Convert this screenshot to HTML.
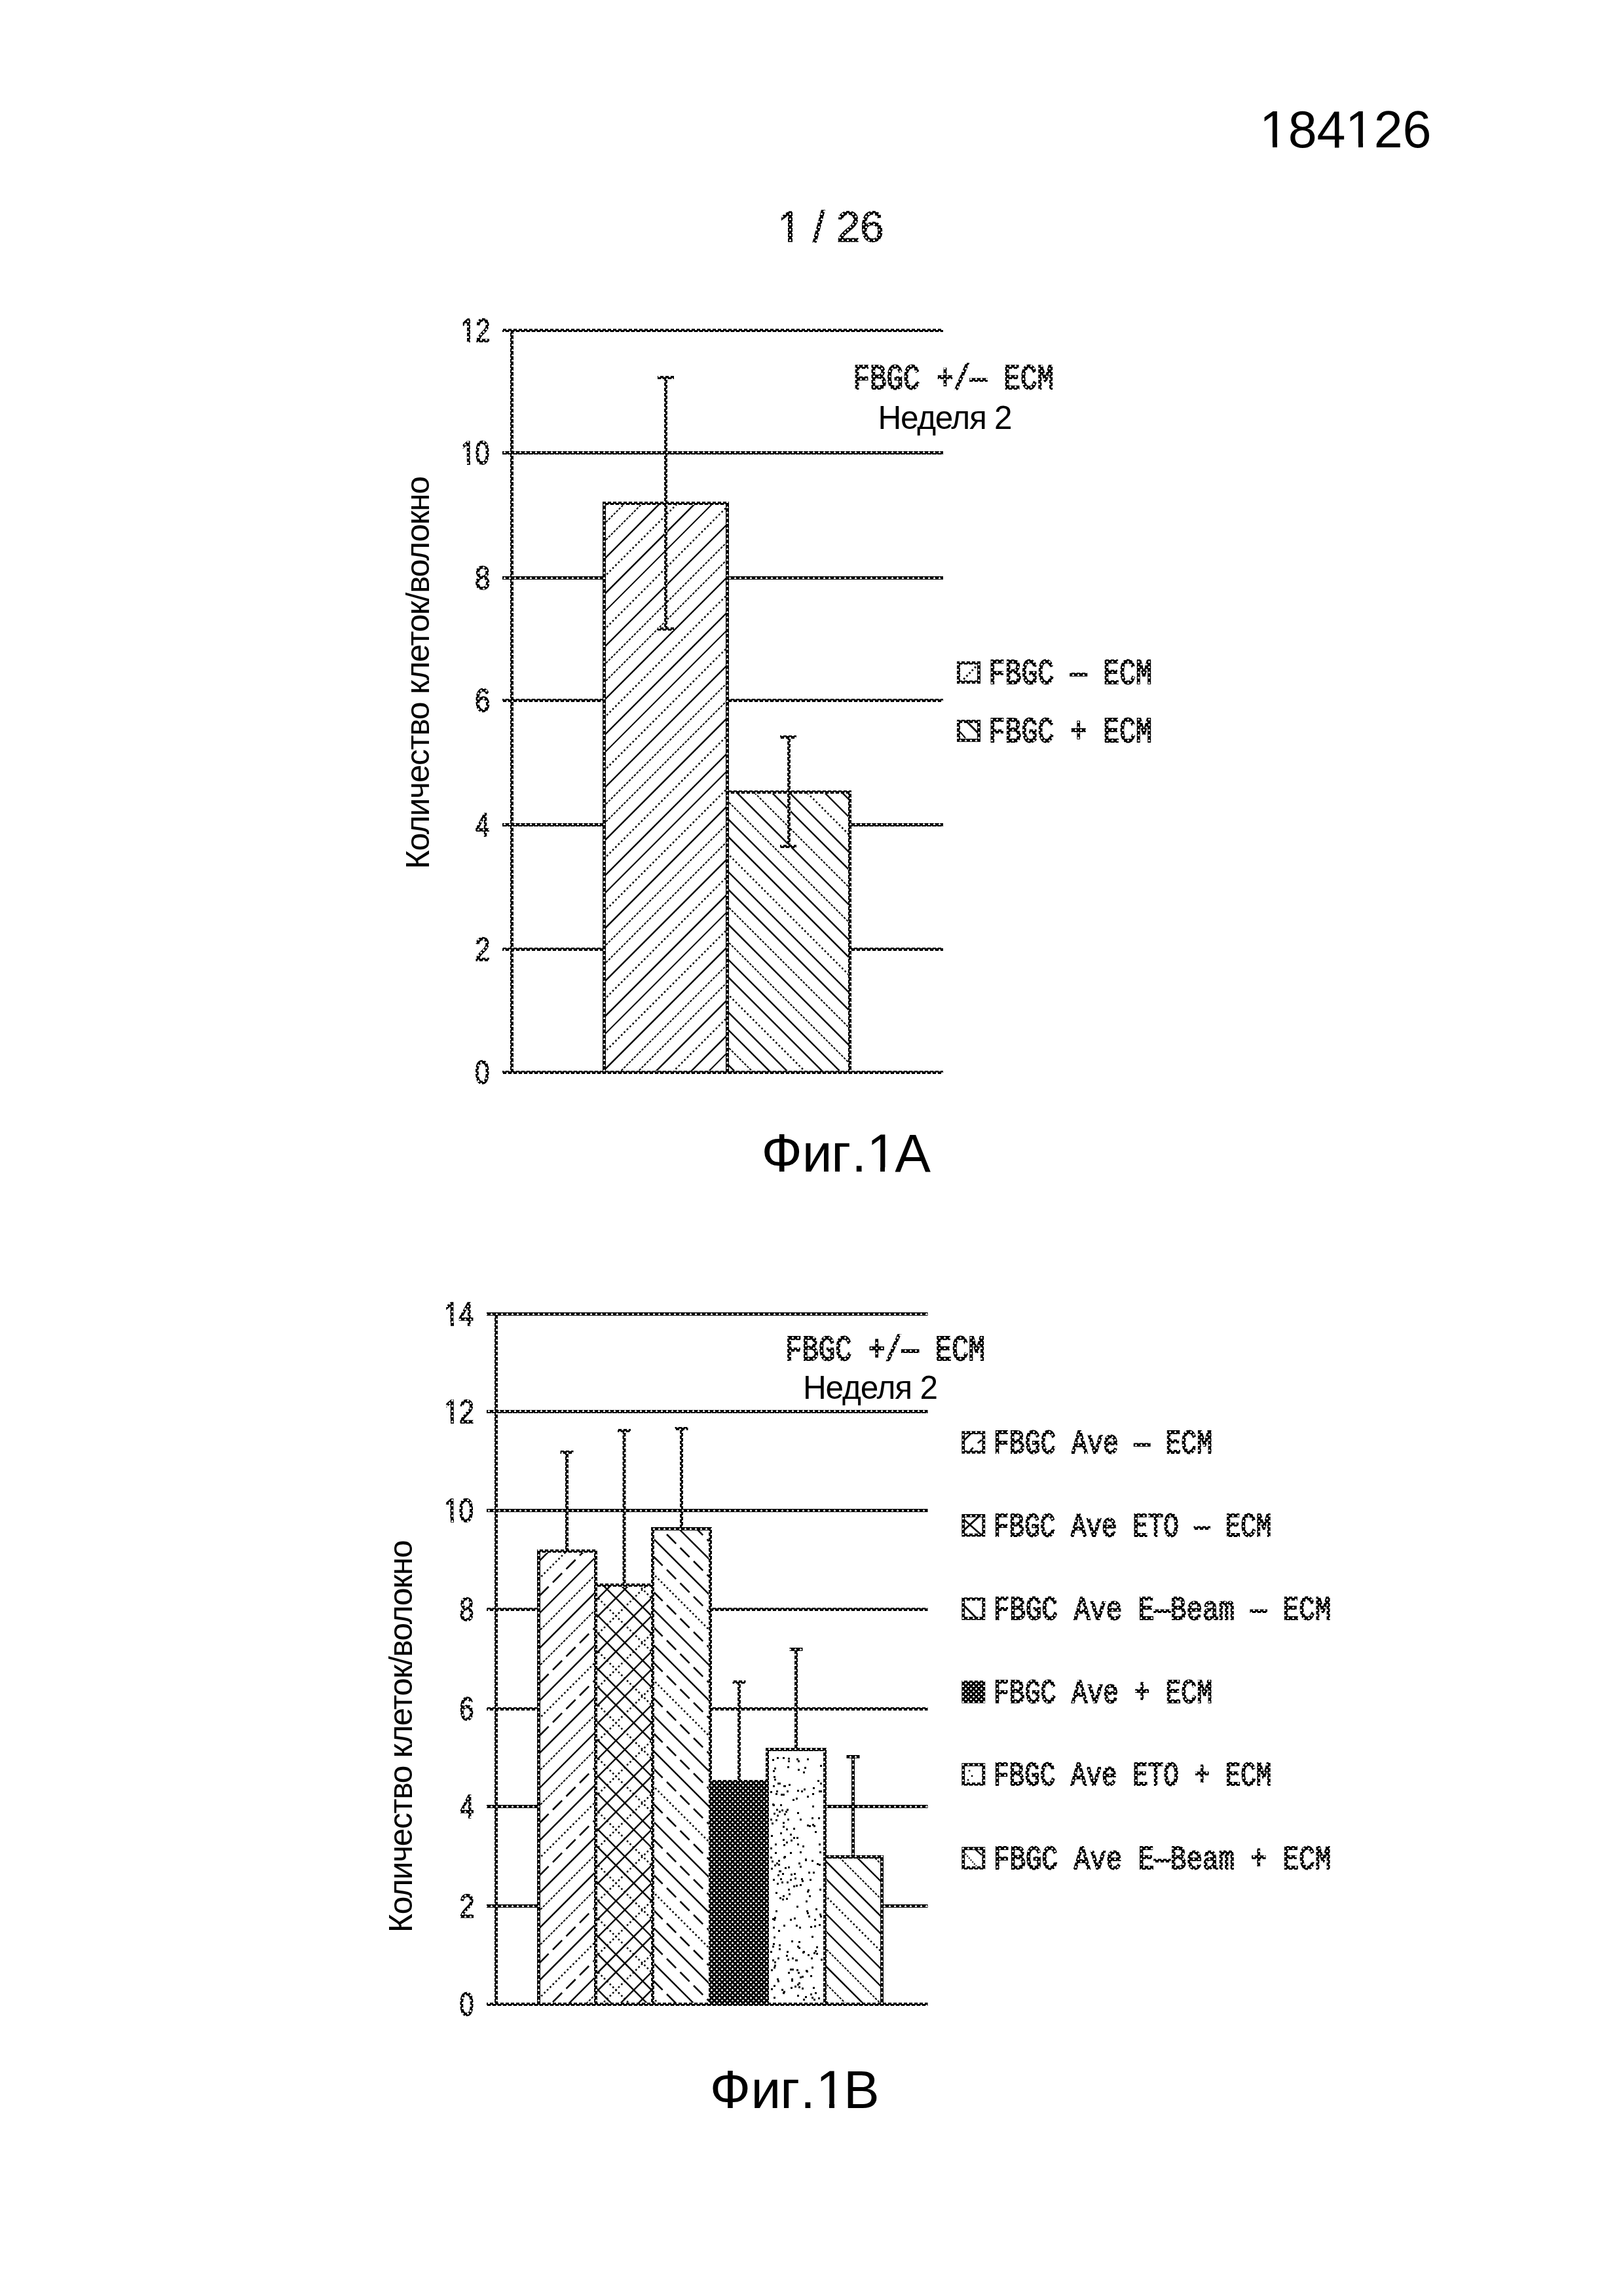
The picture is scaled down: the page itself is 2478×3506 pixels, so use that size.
<!DOCTYPE html>
<html><head><meta charset="utf-8">
<style>
html,body{margin:0;padding:0;background:#fff;}
body{width:2478px;height:3506px;overflow:hidden;}
svg{display:block;will-change:transform;}
</style></head><body>
<svg width="2478" height="3506" viewBox="0 0 2478 3506">
<rect x="0" y="0" width="2478" height="3506" fill="#fff"/>
<defs>
<pattern id="darkp" patternUnits="userSpaceOnUse" x="0" y="0" width="8" height="8">
<rect width="8" height="8" fill="#000"/>
<rect x="1" y="1" width="3" height="3" fill="#fff"/>
<rect x="5" y="5" width="3" height="3" fill="#fff"/>
<rect x="1" y="1" width="1" height="1" fill="#000"/>
<rect x="5" y="5" width="1" height="1" fill="#000"/>
<rect x="3" y="1" width="1" height="1" fill="#000"/>
<rect x="7" y="5" width="1" height="1" fill="#000"/>
</pattern>
<clipPath id="ca1"><rect x="922.5" y="768.5" width="188" height="869"/></clipPath>
<clipPath id="ca2"><rect x="1110.5" y="1209.5" width="187" height="428"/></clipPath>
<clipPath id="cb1"><rect x="822.5" y="2368.5" width="87" height="692"/></clipPath>
<clipPath id="cb2"><rect x="909.5" y="2420.5" width="87" height="640"/></clipPath>
<clipPath id="cb3"><rect x="996.5" y="2334.5" width="88" height="726"/></clipPath>
<clipPath id="cb6"><rect x="1259.5" y="2835.5" width="87" height="225"/></clipPath>
</defs>
<g stroke="url(#darkp)" stroke-width="5" fill="none">
<line x1="767" y1="1637.5" x2="1440" y2="1637.5"/>
<line x1="767" y1="1449.5" x2="1440" y2="1449.5"/>
<line x1="767" y1="1259.5" x2="1440" y2="1259.5"/>
<line x1="767" y1="1069.5" x2="1440" y2="1069.5"/>
<line x1="767" y1="882.5" x2="1440" y2="882.5"/>
<line x1="767" y1="691.5" x2="1440" y2="691.5"/>
<line x1="767" y1="504.5" x2="1440" y2="504.5"/>
<line x1="781.5" y1="502" x2="781.5" y2="1640"/>
<rect x="922.5" y="768.5" width="188" height="869" fill="#fff" stroke="none"/>
<rect x="1110.5" y="1209.5" width="187" height="428" fill="#fff" stroke="none"/>
<g clip-path="url(#ca1)" stroke="#000" fill="none">
<line x1="882.5" y1="759.4" x2="1150.5" y2="491.4" stroke-width="2"/>
<line x1="882.5" y1="786.3" x2="1150.5" y2="518.3" stroke-width="2.6" stroke-dasharray="2.6 3.6"/>
<line x1="882.5" y1="813.2" x2="1150.5" y2="545.2" stroke-width="2.4"/>
<line x1="882.5" y1="840.1" x2="1150.5" y2="572.1" stroke-width="2" stroke-dasharray="3.5 2"/>
<line x1="882.5" y1="867" x2="1150.5" y2="599" stroke-width="2" stroke-dasharray="3.5 2"/>
<line x1="882.5" y1="893.9" x2="1150.5" y2="625.9" stroke-width="2.4"/>
<line x1="882.5" y1="920.8" x2="1150.5" y2="652.8" stroke-width="2.6" stroke-dasharray="2.6 3.6"/>
<line x1="882.5" y1="947.7" x2="1150.5" y2="679.7" stroke-width="2.4"/>
<line x1="882.5" y1="974.6" x2="1150.5" y2="706.6" stroke-width="2"/>
<line x1="882.5" y1="1001.5" x2="1150.5" y2="733.5" stroke-width="2.6" stroke-dasharray="2.6 3.6"/>
<line x1="882.5" y1="1028.4" x2="1150.5" y2="760.4" stroke-width="2.4"/>
<line x1="882.5" y1="1055.3" x2="1150.5" y2="787.3" stroke-width="2" stroke-dasharray="3.5 2"/>
<line x1="882.5" y1="1082.2" x2="1150.5" y2="814.2" stroke-width="2" stroke-dasharray="3.5 2"/>
<line x1="882.5" y1="1109.1" x2="1150.5" y2="841.1" stroke-width="2.4"/>
<line x1="882.5" y1="1136" x2="1150.5" y2="868" stroke-width="2.6" stroke-dasharray="2.6 3.6"/>
<line x1="882.5" y1="1162.9" x2="1150.5" y2="894.9" stroke-width="2.4"/>
<line x1="882.5" y1="1189.8" x2="1150.5" y2="921.8" stroke-width="2"/>
<line x1="882.5" y1="1216.7" x2="1150.5" y2="948.7" stroke-width="2.6" stroke-dasharray="2.6 3.6"/>
<line x1="882.5" y1="1243.6" x2="1150.5" y2="975.6" stroke-width="2.4"/>
<line x1="882.5" y1="1270.5" x2="1150.5" y2="1002.5" stroke-width="2" stroke-dasharray="3.5 2"/>
<line x1="882.5" y1="1297.4" x2="1150.5" y2="1029.4" stroke-width="2" stroke-dasharray="3.5 2"/>
<line x1="882.5" y1="1324.3" x2="1150.5" y2="1056.3" stroke-width="2.4"/>
<line x1="882.5" y1="1351.2" x2="1150.5" y2="1083.2" stroke-width="2.6" stroke-dasharray="2.6 3.6"/>
<line x1="882.5" y1="1378.1" x2="1150.5" y2="1110.1" stroke-width="2.4"/>
<line x1="882.5" y1="1405" x2="1150.5" y2="1137" stroke-width="2"/>
<line x1="882.5" y1="1431.9" x2="1150.5" y2="1163.9" stroke-width="2.6" stroke-dasharray="2.6 3.6"/>
<line x1="882.5" y1="1458.8" x2="1150.5" y2="1190.8" stroke-width="2.4"/>
<line x1="882.5" y1="1485.7" x2="1150.5" y2="1217.7" stroke-width="2" stroke-dasharray="3.5 2"/>
<line x1="882.5" y1="1512.6" x2="1150.5" y2="1244.6" stroke-width="2" stroke-dasharray="3.5 2"/>
<line x1="882.5" y1="1539.5" x2="1150.5" y2="1271.5" stroke-width="2.4"/>
<line x1="882.5" y1="1566.4" x2="1150.5" y2="1298.4" stroke-width="2.6" stroke-dasharray="2.6 3.6"/>
<line x1="882.5" y1="1593.3" x2="1150.5" y2="1325.3" stroke-width="2.4"/>
<line x1="882.5" y1="1620.2" x2="1150.5" y2="1352.2" stroke-width="2"/>
<line x1="882.5" y1="1647.1" x2="1150.5" y2="1379.1" stroke-width="2.6" stroke-dasharray="2.6 3.6"/>
<line x1="882.5" y1="1674" x2="1150.5" y2="1406" stroke-width="2.4"/>
<line x1="882.5" y1="1700.9" x2="1150.5" y2="1432.9" stroke-width="2" stroke-dasharray="3.5 2"/>
<line x1="882.5" y1="1727.8" x2="1150.5" y2="1459.8" stroke-width="2" stroke-dasharray="3.5 2"/>
<line x1="882.5" y1="1754.7" x2="1150.5" y2="1486.7" stroke-width="2.4"/>
<line x1="882.5" y1="1781.6" x2="1150.5" y2="1513.6" stroke-width="2.6" stroke-dasharray="2.6 3.6"/>
<line x1="882.5" y1="1808.5" x2="1150.5" y2="1540.5" stroke-width="2.4"/>
<line x1="882.5" y1="1835.4" x2="1150.5" y2="1567.4" stroke-width="2"/>
<line x1="882.5" y1="1862.3" x2="1150.5" y2="1594.3" stroke-width="2.6" stroke-dasharray="2.6 3.6"/>
<line x1="882.5" y1="1889.2" x2="1150.5" y2="1621.2" stroke-width="2.4"/>
<line x1="882.5" y1="1916.1" x2="1150.5" y2="1648.1" stroke-width="2" stroke-dasharray="3.5 2"/>
</g>
<g clip-path="url(#ca2)" stroke="#000" fill="none">
<line x1="1070.5" y1="941.5" x2="1337.5" y2="1208.5" stroke-width="2.4"/>
<line x1="1070.5" y1="968.3" x2="1337.5" y2="1235.3" stroke-width="2" stroke-dasharray="3.5 2"/>
<line x1="1070.5" y1="995.1" x2="1337.5" y2="1262.1" stroke-width="2.4"/>
<line x1="1070.5" y1="1021.9" x2="1337.5" y2="1288.9" stroke-width="2.4"/>
<line x1="1070.5" y1="1048.7" x2="1337.5" y2="1315.7" stroke-width="2.6" stroke-dasharray="2.6 3.6"/>
<line x1="1070.5" y1="1075.5" x2="1337.5" y2="1342.5" stroke-width="2.4"/>
<line x1="1070.5" y1="1102.3" x2="1337.5" y2="1369.3" stroke-width="2.4"/>
<line x1="1070.5" y1="1129.1" x2="1337.5" y2="1396.1" stroke-width="2" stroke-dasharray="3.5 2"/>
<line x1="1070.5" y1="1155.9" x2="1337.5" y2="1422.9" stroke-width="2.4"/>
<line x1="1070.5" y1="1182.7" x2="1337.5" y2="1449.7" stroke-width="2" stroke-dasharray="3.5 2"/>
<line x1="1070.5" y1="1209.5" x2="1337.5" y2="1476.5" stroke-width="2.4"/>
<line x1="1070.5" y1="1236.3" x2="1337.5" y2="1503.3" stroke-width="2.4"/>
<line x1="1070.5" y1="1263.1" x2="1337.5" y2="1530.1" stroke-width="2.6" stroke-dasharray="2.6 3.6"/>
<line x1="1070.5" y1="1289.9" x2="1337.5" y2="1556.9" stroke-width="2.4"/>
<line x1="1070.5" y1="1316.7" x2="1337.5" y2="1583.7" stroke-width="2.4"/>
<line x1="1070.5" y1="1343.5" x2="1337.5" y2="1610.5" stroke-width="2" stroke-dasharray="3.5 2"/>
<line x1="1070.5" y1="1370.3" x2="1337.5" y2="1637.3" stroke-width="2.4"/>
<line x1="1070.5" y1="1397.1" x2="1337.5" y2="1664.1" stroke-width="2" stroke-dasharray="3.5 2"/>
<line x1="1070.5" y1="1423.9" x2="1337.5" y2="1690.9" stroke-width="2.4"/>
<line x1="1070.5" y1="1450.7" x2="1337.5" y2="1717.7" stroke-width="2.4"/>
<line x1="1070.5" y1="1477.5" x2="1337.5" y2="1744.5" stroke-width="2.6" stroke-dasharray="2.6 3.6"/>
<line x1="1070.5" y1="1504.3" x2="1337.5" y2="1771.3" stroke-width="2.4"/>
<line x1="1070.5" y1="1531.1" x2="1337.5" y2="1798.1" stroke-width="2.4"/>
<line x1="1070.5" y1="1557.9" x2="1337.5" y2="1824.9" stroke-width="2" stroke-dasharray="3.5 2"/>
<line x1="1070.5" y1="1584.7" x2="1337.5" y2="1851.7" stroke-width="2.4"/>
<line x1="1070.5" y1="1611.5" x2="1337.5" y2="1878.5" stroke-width="2" stroke-dasharray="3.5 2"/>
<line x1="1070.5" y1="1638.3" x2="1337.5" y2="1905.3" stroke-width="2.4"/>
</g>
<rect x="922.5" y="768.5" width="188" height="869" fill="none"/>
<rect x="1110.5" y="1209.5" width="187" height="428" fill="none"/>
<line x1="1016.5" y1="576.5" x2="1016.5" y2="960.5"/>
<line x1="1004" y1="576.5" x2="1029" y2="576.5"/>
<line x1="1004" y1="960.5" x2="1029" y2="960.5"/>
<line x1="1204.5" y1="1125.5" x2="1204.5" y2="1292.5"/>
<line x1="1191" y1="1125.5" x2="1216" y2="1125.5"/>
<line x1="1191" y1="1292.5" x2="1216" y2="1292.5"/>
</g>
<g stroke="url(#darkp)" fill="none">
<rect x="1463.5" y="1012.3" width="31" height="29.2" stroke-width="4.9"/>
<line stroke="#000" x1="1471.3" y1="1037.2" x2="1491.5" y2="1016.5" stroke-width="3" stroke-dasharray="2.6 3.4"/>
<rect x="1463.5" y="1101.6" width="31" height="28.8" stroke-width="4.9"/>
<line stroke="#000" x1="1475.5" y1="1101.6" x2="1493" y2="1119" stroke-width="2.8"/>
<line stroke="#000" x1="1465.9" y1="1117.7" x2="1474" y2="1127" stroke-width="2"/>
</g>
<g stroke="url(#darkp)" stroke-width="5" fill="none">
<line x1="743" y1="3060.5" x2="1416.5" y2="3060.5"/>
<line x1="743" y1="2910.5" x2="1416.5" y2="2910.5"/>
<line x1="743" y1="2758.5" x2="1416.5" y2="2758.5"/>
<line x1="743" y1="2609.5" x2="1416.5" y2="2609.5"/>
<line x1="743" y1="2457.5" x2="1416.5" y2="2457.5"/>
<line x1="743" y1="2306.5" x2="1416.5" y2="2306.5"/>
<line x1="743" y1="2155.5" x2="1416.5" y2="2155.5"/>
<line x1="743" y1="2006.5" x2="1416.5" y2="2006.5"/>
<line x1="757.5" y1="2004" x2="757.5" y2="3063"/>
<rect x="822.5" y="2368.5" width="87" height="692" fill="#fff" stroke="none"/>
<rect x="909.5" y="2420.5" width="87" height="640" fill="#fff" stroke="none"/>
<rect x="996.5" y="2334.5" width="88" height="726" fill="#fff" stroke="none"/>
<rect x="1084.5" y="2720.5" width="87" height="340" fill="#fff" stroke="none"/>
<rect x="1171.5" y="2671.5" width="88" height="389" fill="#fff" stroke="none"/>
<rect x="1259.5" y="2835.5" width="87" height="225" fill="#fff" stroke="none"/>
<g clip-path="url(#cb1)" stroke="#000" fill="none">
<line x1="782.5" y1="2371.1" x2="949.5" y2="2204.1" stroke-width="2" stroke-dasharray="3.5 2"/>
<line x1="782.5" y1="2397.8" x2="949.5" y2="2230.8" stroke-width="2.6" stroke-dasharray="20 9"/>
<line x1="782.5" y1="2424.5" x2="949.5" y2="2257.5" stroke-width="2.4"/>
<line x1="782.5" y1="2451.2" x2="949.5" y2="2284.2" stroke-width="2.6" stroke-dasharray="2.6 3.6"/>
<line x1="782.5" y1="2477.9" x2="949.5" y2="2310.9" stroke-width="2.6" stroke-dasharray="20 9"/>
<line x1="782.5" y1="2504.6" x2="949.5" y2="2337.6" stroke-width="2.4"/>
<line x1="782.5" y1="2531.3" x2="949.5" y2="2364.3" stroke-width="2" stroke-dasharray="3.5 2"/>
<line x1="782.5" y1="2558" x2="949.5" y2="2391" stroke-width="2.4"/>
<line x1="782.5" y1="2584.7" x2="949.5" y2="2417.7" stroke-width="2" stroke-dasharray="3.5 2"/>
<line x1="782.5" y1="2611.4" x2="949.5" y2="2444.4" stroke-width="2.6" stroke-dasharray="20 9"/>
<line x1="782.5" y1="2638.1" x2="949.5" y2="2471.1" stroke-width="2.4"/>
<line x1="782.5" y1="2664.8" x2="949.5" y2="2497.8" stroke-width="2.6" stroke-dasharray="2.6 3.6"/>
<line x1="782.5" y1="2691.5" x2="949.5" y2="2524.5" stroke-width="2.6" stroke-dasharray="20 9"/>
<line x1="782.5" y1="2718.2" x2="949.5" y2="2551.2" stroke-width="2.4"/>
<line x1="782.5" y1="2744.9" x2="949.5" y2="2577.9" stroke-width="2" stroke-dasharray="3.5 2"/>
<line x1="782.5" y1="2771.6" x2="949.5" y2="2604.6" stroke-width="2.4"/>
<line x1="782.5" y1="2798.3" x2="949.5" y2="2631.3" stroke-width="2" stroke-dasharray="3.5 2"/>
<line x1="782.5" y1="2825" x2="949.5" y2="2658" stroke-width="2.6" stroke-dasharray="20 9"/>
<line x1="782.5" y1="2851.7" x2="949.5" y2="2684.7" stroke-width="2.4"/>
<line x1="782.5" y1="2878.4" x2="949.5" y2="2711.4" stroke-width="2.6" stroke-dasharray="2.6 3.6"/>
<line x1="782.5" y1="2905.1" x2="949.5" y2="2738.1" stroke-width="2.6" stroke-dasharray="20 9"/>
<line x1="782.5" y1="2931.8" x2="949.5" y2="2764.8" stroke-width="2.4"/>
<line x1="782.5" y1="2958.5" x2="949.5" y2="2791.5" stroke-width="2" stroke-dasharray="3.5 2"/>
<line x1="782.5" y1="2985.2" x2="949.5" y2="2818.2" stroke-width="2.4"/>
<line x1="782.5" y1="3011.9" x2="949.5" y2="2844.9" stroke-width="2" stroke-dasharray="3.5 2"/>
<line x1="782.5" y1="3038.6" x2="949.5" y2="2871.6" stroke-width="2.6" stroke-dasharray="20 9"/>
<line x1="782.5" y1="3065.3" x2="949.5" y2="2898.3" stroke-width="2.4"/>
<line x1="782.5" y1="3092" x2="949.5" y2="2925" stroke-width="2.6" stroke-dasharray="2.6 3.6"/>
<line x1="782.5" y1="3118.7" x2="949.5" y2="2951.7" stroke-width="2.6" stroke-dasharray="20 9"/>
<line x1="782.5" y1="3145.4" x2="949.5" y2="2978.4" stroke-width="2.4"/>
<line x1="782.5" y1="3172.1" x2="949.5" y2="3005.1" stroke-width="2" stroke-dasharray="3.5 2"/>
<line x1="782.5" y1="3198.8" x2="949.5" y2="3031.8" stroke-width="2.4"/>
<line x1="782.5" y1="3225.5" x2="949.5" y2="3058.5" stroke-width="2" stroke-dasharray="3.5 2"/>
</g>
<g clip-path="url(#cb2)" stroke="#000" fill="none">
<line x1="869.5" y1="2429.7" x2="1036.5" y2="2262.7" stroke-width="2.4"/>
<line x1="869.5" y1="2456.9" x2="1036.5" y2="2289.9" stroke-width="2.6" stroke-dasharray="2.6 3.6"/>
<line x1="869.5" y1="2484.1" x2="1036.5" y2="2317.1" stroke-width="2.4"/>
<line x1="869.5" y1="2511.3" x2="1036.5" y2="2344.3" stroke-width="2.4"/>
<line x1="869.5" y1="2538.5" x2="1036.5" y2="2371.5" stroke-width="2.6" stroke-dasharray="2.6 3.6"/>
<line x1="869.5" y1="2565.7" x2="1036.5" y2="2398.7" stroke-width="2.4"/>
<line x1="869.5" y1="2592.9" x2="1036.5" y2="2425.9" stroke-width="2.4"/>
<line x1="869.5" y1="2620.1" x2="1036.5" y2="2453.1" stroke-width="2.6" stroke-dasharray="2.6 3.6"/>
<line x1="869.5" y1="2647.3" x2="1036.5" y2="2480.3" stroke-width="2.4"/>
<line x1="869.5" y1="2674.5" x2="1036.5" y2="2507.5" stroke-width="2.4"/>
<line x1="869.5" y1="2701.7" x2="1036.5" y2="2534.7" stroke-width="2.6" stroke-dasharray="2.6 3.6"/>
<line x1="869.5" y1="2728.9" x2="1036.5" y2="2561.9" stroke-width="2.4"/>
<line x1="869.5" y1="2756.1" x2="1036.5" y2="2589.1" stroke-width="2.4"/>
<line x1="869.5" y1="2783.3" x2="1036.5" y2="2616.3" stroke-width="2.6" stroke-dasharray="2.6 3.6"/>
<line x1="869.5" y1="2810.5" x2="1036.5" y2="2643.5" stroke-width="2.4"/>
<line x1="869.5" y1="2837.7" x2="1036.5" y2="2670.7" stroke-width="2.4"/>
<line x1="869.5" y1="2864.9" x2="1036.5" y2="2697.9" stroke-width="2.6" stroke-dasharray="2.6 3.6"/>
<line x1="869.5" y1="2892.1" x2="1036.5" y2="2725.1" stroke-width="2.4"/>
<line x1="869.5" y1="2919.3" x2="1036.5" y2="2752.3" stroke-width="2.4"/>
<line x1="869.5" y1="2946.5" x2="1036.5" y2="2779.5" stroke-width="2.6" stroke-dasharray="2.6 3.6"/>
<line x1="869.5" y1="2973.7" x2="1036.5" y2="2806.7" stroke-width="2.4"/>
<line x1="869.5" y1="3000.9" x2="1036.5" y2="2833.9" stroke-width="2.4"/>
<line x1="869.5" y1="3028.1" x2="1036.5" y2="2861.1" stroke-width="2.6" stroke-dasharray="2.6 3.6"/>
<line x1="869.5" y1="3055.3" x2="1036.5" y2="2888.3" stroke-width="2.4"/>
<line x1="869.5" y1="3082.5" x2="1036.5" y2="2915.5" stroke-width="2.4"/>
<line x1="869.5" y1="3109.7" x2="1036.5" y2="2942.7" stroke-width="2.6" stroke-dasharray="2.6 3.6"/>
<line x1="869.5" y1="3136.9" x2="1036.5" y2="2969.9" stroke-width="2.4"/>
<line x1="869.5" y1="3164.1" x2="1036.5" y2="2997.1" stroke-width="2.4"/>
<line x1="869.5" y1="3191.3" x2="1036.5" y2="3024.3" stroke-width="2.6" stroke-dasharray="2.6 3.6"/>
<line x1="869.5" y1="3218.5" x2="1036.5" y2="3051.5" stroke-width="2.4"/>
<line x1="869.5" y1="2260.7" x2="1036.5" y2="2427.7" stroke-width="2.4"/>
<line x1="869.5" y1="2287.9" x2="1036.5" y2="2454.9" stroke-width="2.4"/>
<line x1="869.5" y1="2315.1" x2="1036.5" y2="2482.1" stroke-width="2.6" stroke-dasharray="2.6 3.6"/>
<line x1="869.5" y1="2342.3" x2="1036.5" y2="2509.3" stroke-width="2.4"/>
<line x1="869.5" y1="2369.5" x2="1036.5" y2="2536.5" stroke-width="2.4"/>
<line x1="869.5" y1="2396.7" x2="1036.5" y2="2563.7" stroke-width="2.6" stroke-dasharray="2.6 3.6"/>
<line x1="869.5" y1="2423.9" x2="1036.5" y2="2590.9" stroke-width="2.4"/>
<line x1="869.5" y1="2451.1" x2="1036.5" y2="2618.1" stroke-width="2.4"/>
<line x1="869.5" y1="2478.3" x2="1036.5" y2="2645.3" stroke-width="2.6" stroke-dasharray="2.6 3.6"/>
<line x1="869.5" y1="2505.5" x2="1036.5" y2="2672.5" stroke-width="2.4"/>
<line x1="869.5" y1="2532.7" x2="1036.5" y2="2699.7" stroke-width="2.4"/>
<line x1="869.5" y1="2559.9" x2="1036.5" y2="2726.9" stroke-width="2.6" stroke-dasharray="2.6 3.6"/>
<line x1="869.5" y1="2587.1" x2="1036.5" y2="2754.1" stroke-width="2.4"/>
<line x1="869.5" y1="2614.3" x2="1036.5" y2="2781.3" stroke-width="2.4"/>
<line x1="869.5" y1="2641.5" x2="1036.5" y2="2808.5" stroke-width="2.6" stroke-dasharray="2.6 3.6"/>
<line x1="869.5" y1="2668.7" x2="1036.5" y2="2835.7" stroke-width="2.4"/>
<line x1="869.5" y1="2695.9" x2="1036.5" y2="2862.9" stroke-width="2.4"/>
<line x1="869.5" y1="2723.1" x2="1036.5" y2="2890.1" stroke-width="2.6" stroke-dasharray="2.6 3.6"/>
<line x1="869.5" y1="2750.3" x2="1036.5" y2="2917.3" stroke-width="2.4"/>
<line x1="869.5" y1="2777.5" x2="1036.5" y2="2944.5" stroke-width="2.4"/>
<line x1="869.5" y1="2804.7" x2="1036.5" y2="2971.7" stroke-width="2.6" stroke-dasharray="2.6 3.6"/>
<line x1="869.5" y1="2831.9" x2="1036.5" y2="2998.9" stroke-width="2.4"/>
<line x1="869.5" y1="2859.1" x2="1036.5" y2="3026.1" stroke-width="2.4"/>
<line x1="869.5" y1="2886.3" x2="1036.5" y2="3053.3" stroke-width="2.6" stroke-dasharray="2.6 3.6"/>
<line x1="869.5" y1="2913.5" x2="1036.5" y2="3080.5" stroke-width="2.4"/>
<line x1="869.5" y1="2940.7" x2="1036.5" y2="3107.7" stroke-width="2.4"/>
<line x1="869.5" y1="2967.9" x2="1036.5" y2="3134.9" stroke-width="2.6" stroke-dasharray="2.6 3.6"/>
<line x1="869.5" y1="2995.1" x2="1036.5" y2="3162.1" stroke-width="2.4"/>
<line x1="869.5" y1="3022.3" x2="1036.5" y2="3189.3" stroke-width="2.4"/>
<line x1="869.5" y1="3049.5" x2="1036.5" y2="3216.5" stroke-width="2.6" stroke-dasharray="2.6 3.6"/>
</g>
<g clip-path="url(#cb3)" stroke="#000" fill="none">
<line x1="956.5" y1="2173.5" x2="1124.5" y2="2341.5" stroke-width="2.6" stroke-dasharray="20 9"/>
<line x1="956.5" y1="2200.5" x2="1124.5" y2="2368.5" stroke-width="2.6" stroke-dasharray="2.6 3.6"/>
<line x1="956.5" y1="2227.5" x2="1124.5" y2="2395.5" stroke-width="2.6" stroke-dasharray="20 9"/>
<line x1="956.5" y1="2254.5" x2="1124.5" y2="2422.5" stroke-width="2.4"/>
<line x1="956.5" y1="2281.5" x2="1124.5" y2="2449.5" stroke-width="2.6" stroke-dasharray="20 9"/>
<line x1="956.5" y1="2308.5" x2="1124.5" y2="2476.5" stroke-width="2.4"/>
<line x1="956.5" y1="2335.5" x2="1124.5" y2="2503.5" stroke-width="2.6" stroke-dasharray="20 9"/>
<line x1="956.5" y1="2362.5" x2="1124.5" y2="2530.5" stroke-width="2.6" stroke-dasharray="2.6 3.6"/>
<line x1="956.5" y1="2389.5" x2="1124.5" y2="2557.5" stroke-width="2.6" stroke-dasharray="20 9"/>
<line x1="956.5" y1="2416.5" x2="1124.5" y2="2584.5" stroke-width="2.4"/>
<line x1="956.5" y1="2443.5" x2="1124.5" y2="2611.5" stroke-width="2.6" stroke-dasharray="20 9"/>
<line x1="956.5" y1="2470.5" x2="1124.5" y2="2638.5" stroke-width="2.4"/>
<line x1="956.5" y1="2497.5" x2="1124.5" y2="2665.5" stroke-width="2.6" stroke-dasharray="20 9"/>
<line x1="956.5" y1="2524.5" x2="1124.5" y2="2692.5" stroke-width="2.6" stroke-dasharray="2.6 3.6"/>
<line x1="956.5" y1="2551.5" x2="1124.5" y2="2719.5" stroke-width="2.6" stroke-dasharray="20 9"/>
<line x1="956.5" y1="2578.5" x2="1124.5" y2="2746.5" stroke-width="2.4"/>
<line x1="956.5" y1="2605.5" x2="1124.5" y2="2773.5" stroke-width="2.6" stroke-dasharray="20 9"/>
<line x1="956.5" y1="2632.5" x2="1124.5" y2="2800.5" stroke-width="2.4"/>
<line x1="956.5" y1="2659.5" x2="1124.5" y2="2827.5" stroke-width="2.6" stroke-dasharray="20 9"/>
<line x1="956.5" y1="2686.5" x2="1124.5" y2="2854.5" stroke-width="2.6" stroke-dasharray="2.6 3.6"/>
<line x1="956.5" y1="2713.5" x2="1124.5" y2="2881.5" stroke-width="2.6" stroke-dasharray="20 9"/>
<line x1="956.5" y1="2740.5" x2="1124.5" y2="2908.5" stroke-width="2.4"/>
<line x1="956.5" y1="2767.5" x2="1124.5" y2="2935.5" stroke-width="2.6" stroke-dasharray="20 9"/>
<line x1="956.5" y1="2794.5" x2="1124.5" y2="2962.5" stroke-width="2.4"/>
<line x1="956.5" y1="2821.5" x2="1124.5" y2="2989.5" stroke-width="2.6" stroke-dasharray="20 9"/>
<line x1="956.5" y1="2848.5" x2="1124.5" y2="3016.5" stroke-width="2.6" stroke-dasharray="2.6 3.6"/>
<line x1="956.5" y1="2875.5" x2="1124.5" y2="3043.5" stroke-width="2.6" stroke-dasharray="20 9"/>
<line x1="956.5" y1="2902.5" x2="1124.5" y2="3070.5" stroke-width="2.4"/>
<line x1="956.5" y1="2929.5" x2="1124.5" y2="3097.5" stroke-width="2.6" stroke-dasharray="20 9"/>
<line x1="956.5" y1="2956.5" x2="1124.5" y2="3124.5" stroke-width="2.4"/>
<line x1="956.5" y1="2983.5" x2="1124.5" y2="3151.5" stroke-width="2.6" stroke-dasharray="20 9"/>
<line x1="956.5" y1="3010.5" x2="1124.5" y2="3178.5" stroke-width="2.6" stroke-dasharray="2.6 3.6"/>
<line x1="956.5" y1="3037.5" x2="1124.5" y2="3205.5" stroke-width="2.6" stroke-dasharray="20 9"/>
<line x1="956.5" y1="3064.5" x2="1124.5" y2="3232.5" stroke-width="2.4"/>
</g>
<rect x="1084.5" y="2720.5" width="87" height="340" fill="url(#darkp)" stroke="none"/>
<g fill="#000" stroke="none"><rect x="1201" y="2734" width="3" height="3"/><rect x="1226" y="2705" width="3" height="3"/><rect x="1217" y="2815" width="3" height="3"/><rect x="1180" y="2869" width="3" height="3"/><rect x="1178" y="2841" width="3" height="3"/><rect x="1181" y="2712" width="3" height="3"/><rect x="1209" y="2989" width="3" height="3"/><rect x="1185" y="2762" width="3" height="3"/><rect x="1224" y="3035" width="3" height="3"/><rect x="1221" y="2827" width="3" height="3"/><rect x="1252" y="2695" width="3" height="3"/><rect x="1242" y="2787" width="3" height="3"/><rect x="1187" y="2722" width="3" height="3"/><rect x="1200" y="2985" width="3" height="3"/><rect x="1190" y="2897" width="3" height="3"/><rect x="1225" y="2818" width="3" height="3"/><rect x="1218" y="2701" width="3" height="3"/><rect x="1180" y="2755" width="3" height="3"/><rect x="1229" y="2839" width="3" height="3"/><rect x="1200" y="2898" width="3" height="3"/><rect x="1211" y="2791" width="3" height="3"/><rect x="1237" y="2941" width="3" height="3"/><rect x="1195" y="2894" width="3" height="3"/><rect x="1216" y="3007" width="3" height="3"/><rect x="1232" y="2786" width="3" height="3"/><rect x="1252" y="2722" width="3" height="3"/><rect x="1208" y="2963" width="3" height="3"/><rect x="1187" y="2862" width="3" height="3"/><rect x="1179" y="2929" width="3" height="3"/><rect x="1235" y="2894" width="3" height="3"/><rect x="1244" y="2796" width="3" height="3"/><rect x="1230" y="2902" width="3" height="3"/><rect x="1221" y="2849" width="3" height="3"/><rect x="1241" y="3034" width="3" height="3"/><rect x="1212" y="2928" width="3" height="3"/><rect x="1180" y="2942" width="3" height="3"/><rect x="1226" y="3052" width="3" height="3"/><rect x="1240" y="2785" width="3" height="3"/><rect x="1206" y="2930" width="3" height="3"/><rect x="1177" y="2852" width="3" height="3"/><rect x="1189" y="2722" width="3" height="3"/><rect x="1180" y="2967" width="3" height="3"/><rect x="1186" y="2771" width="3" height="3"/><rect x="1206" y="3006" width="3" height="3"/><rect x="1182" y="2847" width="3" height="3"/><rect x="1218" y="3011" width="3" height="3"/><rect x="1239" y="3003" width="3" height="3"/><rect x="1197" y="2834" width="3" height="3"/><rect x="1203" y="3011" width="3" height="3"/><rect x="1250" y="2734" width="3" height="3"/><rect x="1189" y="2765" width="3" height="3"/><rect x="1194" y="2860" width="3" height="3"/><rect x="1221" y="2777" width="3" height="3"/><rect x="1176" y="2835" width="3" height="3"/><rect x="1204" y="2891" width="3" height="3"/><rect x="1250" y="2938" width="3" height="3"/><rect x="1216" y="2910" width="3" height="3"/><rect x="1228" y="2698" width="3" height="3"/><rect x="1246" y="2972" width="3" height="3"/><rect x="1244" y="2978" width="3" height="3"/><rect x="1206" y="2828" width="3" height="3"/><rect x="1184" y="2917" width="3" height="3"/><rect x="1180" y="2703" width="3" height="3"/><rect x="1192" y="2739" width="3" height="3"/><rect x="1202" y="2697" width="3" height="3"/><rect x="1176" y="2735" width="3" height="3"/><rect x="1183" y="2815" width="3" height="3"/><rect x="1177" y="3007" width="3" height="3"/><rect x="1223" y="2734" width="3" height="3"/><rect x="1195" y="2808" width="3" height="3"/><rect x="1204" y="2724" width="3" height="3"/><rect x="1242" y="3052" width="3" height="3"/><rect x="1212" y="2860" width="3" height="3"/><rect x="1182" y="2716" width="3" height="3"/><rect x="1202" y="2777" width="3" height="3"/><rect x="1240" y="2738" width="3" height="3"/><rect x="1177" y="3036" width="3" height="3"/><rect x="1217" y="2733" width="3" height="3"/><rect x="1218" y="2688" width="3" height="3"/><rect x="1217" y="3046" width="3" height="3"/><rect x="1243" y="2940" width="3" height="3"/><rect x="1196" y="2816" width="3" height="3"/><rect x="1189" y="2969" width="3" height="3"/><rect x="1217" y="2971" width="3" height="3"/><rect x="1201" y="2762" width="3" height="3"/><rect x="1239" y="3049" width="3" height="3"/><rect x="1242" y="2981" width="3" height="3"/><rect x="1239" y="2956" width="3" height="3"/><rect x="1193" y="2873" width="3" height="3"/><rect x="1203" y="2688" width="3" height="3"/><rect x="1178" y="2783" width="3" height="3"/><rect x="1196" y="2939" width="3" height="3"/><rect x="1250" y="2846" width="3" height="3"/><rect x="1249" y="3050" width="3" height="3"/><rect x="1250" y="2815" width="3" height="3"/><rect x="1193" y="2763" width="3" height="3"/><rect x="1191" y="2755" width="3" height="3"/><rect x="1224" y="3017" width="3" height="3"/><rect x="1241" y="2858" width="3" height="3"/><rect x="1226" y="2979" width="3" height="3"/><rect x="1182" y="2927" width="3" height="3"/><rect x="1246" y="2972" width="3" height="3"/><rect x="1234" y="2858" width="3" height="3"/><rect x="1189" y="2975" width="3" height="3"/><rect x="1201" y="2979" width="3" height="3"/><rect x="1251" y="2827" width="3" height="3"/><rect x="1207" y="3034" width="3" height="3"/><rect x="1232" y="2742" width="3" height="3"/><rect x="1185" y="2734" width="3" height="3"/><rect x="1246" y="2982" width="3" height="3"/><rect x="1187" y="2989" width="3" height="3"/><rect x="1252" y="2925" width="3" height="3"/><rect x="1203" y="2884" width="3" height="3"/><rect x="1186" y="2683" width="3" height="3"/><rect x="1251" y="2922" width="3" height="3"/><rect x="1217" y="3029" width="3" height="3"/><rect x="1209" y="3006" width="3" height="3"/><rect x="1240" y="2757" width="3" height="3"/><rect x="1195" y="2788" width="3" height="3"/><rect x="1194" y="2899" width="3" height="3"/><rect x="1196" y="2835" width="3" height="3"/><rect x="1186" y="3021" width="3" height="3"/><rect x="1203" y="2850" width="3" height="3"/><rect x="1221" y="3018" width="3" height="3"/><rect x="1208" y="3023" width="3" height="3"/><rect x="1215" y="2878" width="3" height="3"/><rect x="1216" y="2685" width="3" height="3"/><rect x="1210" y="2747" width="3" height="3"/><rect x="1176" y="2979" width="3" height="3"/><rect x="1189" y="2856" width="3" height="3"/><rect x="1232" y="2887" width="3" height="3"/><rect x="1201" y="2873" width="3" height="3"/><rect x="1219" y="2973" width="3" height="3"/><rect x="1184" y="2889" width="3" height="3"/><rect x="1195" y="2782" width="3" height="3"/><rect x="1236" y="2869" width="3" height="3"/><rect x="1219" y="2964" width="3" height="3"/><rect x="1247" y="2845" width="3" height="3"/><rect x="1223" y="2868" width="3" height="3"/><rect x="1215" y="2939" width="3" height="3"/><rect x="1211" y="2879" width="3" height="3"/><rect x="1213" y="3032" width="3" height="3"/><rect x="1230" y="3008" width="3" height="3"/><rect x="1249" y="2775" width="3" height="3"/><rect x="1219" y="3033" width="3" height="3"/><rect x="1241" y="2729" width="3" height="3"/><rect x="1185" y="2844" width="3" height="3"/><rect x="1181" y="2768" width="3" height="3"/><rect x="1181" y="2930" width="3" height="3"/><rect x="1237" y="3016" width="3" height="3"/><rect x="1188" y="2947" width="3" height="3"/><rect x="1227" y="2731" width="3" height="3"/><rect x="1244" y="3042" width="3" height="3"/><rect x="1193" y="3037" width="3" height="3"/><rect x="1207" y="2861" width="3" height="3"/><rect x="1253" y="2991" width="3" height="3"/><rect x="1188" y="2840" width="3" height="3"/><rect x="1216" y="2805" width="3" height="3"/><rect x="1191" y="2798" width="3" height="3"/><rect x="1232" y="2685" width="3" height="3"/><rect x="1219" y="2844" width="3" height="3"/><rect x="1177" y="2802" width="3" height="3"/><rect x="1224" y="2871" width="3" height="3"/><rect x="1181" y="3049" width="3" height="3"/><rect x="1237" y="3044" width="3" height="3"/><rect x="1184" y="2778" width="3" height="3"/><rect x="1179" y="2971" width="3" height="3"/><rect x="1197" y="2726" width="3" height="3"/><rect x="1208" y="3021" width="3" height="3"/><rect x="1239" y="2775" width="3" height="3"/><rect x="1187" y="3024" width="3" height="3"/><rect x="1220" y="2942" width="3" height="3"/><rect x="1182" y="2699" width="3" height="3"/><rect x="1229" y="2838" width="3" height="3"/><rect x="1181" y="3031" width="3" height="3"/><rect x="1225" y="2980" width="3" height="3"/><rect x="1182" y="3000" width="3" height="3"/><rect x="1181" y="3003" width="3" height="3"/><rect x="1211" y="2805" width="3" height="3"/><rect x="1219" y="3027" width="3" height="3"/><rect x="1196" y="2726" width="3" height="3"/><rect x="1217" y="2767" width="3" height="3"/><rect x="1184" y="2738" width="3" height="3"/><rect x="1179" y="2754" width="3" height="3"/><rect x="1200" y="2792" width="3" height="3"/><rect x="1235" y="2787" width="3" height="3"/><rect x="1215" y="2745" width="3" height="3"/><rect x="1203" y="2684" width="3" height="3"/><rect x="1195" y="2683" width="3" height="3"/><rect x="1233" y="2885" width="3" height="3"/><rect x="1190" y="2856" width="3" height="3"/><rect x="1248" y="2718" width="3" height="3"/><rect x="1239" y="2840" width="3" height="3"/><rect x="1214" y="2992" width="3" height="3"/><rect x="1206" y="2869" width="3" height="3"/><rect x="1229" y="3048" width="3" height="3"/><rect x="1202" y="2991" width="3" height="3"/><rect x="1231" y="2917" width="3" height="3"/><rect x="1207" y="2809" width="3" height="3"/><rect x="1180" y="2726" width="3" height="3"/><rect x="1181" y="2957" width="3" height="3"/><rect x="1195" y="2739" width="3" height="3"/><rect x="1182" y="2995" width="3" height="3"/><rect x="1243" y="2930" width="3" height="3"/><rect x="1197" y="2769" width="3" height="3"/><rect x="1198" y="2851" width="3" height="3"/><rect x="1188" y="2846" width="3" height="3"/><rect x="1196" y="3040" width="3" height="3"/><rect x="1251" y="2884" width="3" height="3"/><rect x="1195" y="3042" width="3" height="3"/><rect x="1200" y="2812" width="3" height="3"/><rect x="1176" y="2821" width="3" height="3"/><rect x="1213" y="2867" width="3" height="3"/><rect x="1191" y="2868" width="3" height="3"/><rect x="1176" y="2777" width="3" height="3"/><rect x="1183" y="2828" width="3" height="3"/><rect x="1179" y="2686" width="3" height="3"/><rect x="1199" y="2765" width="3" height="3"/><rect x="1221" y="2877" width="3" height="3"/><rect x="1234" y="2925" width="3" height="3"/><rect x="1231" y="3009" width="3" height="3"/><rect x="1206" y="2800" width="3" height="3"/><rect x="1252" y="2734" width="3" height="3"/><rect x="1232" y="2920" width="3" height="3"/><rect x="1179" y="2992" width="3" height="3"/><rect x="1245" y="2914" width="3" height="3"/><rect x="1233" y="2984" width="3" height="3"/><rect x="1186" y="2875" width="3" height="3"/><rect x="1215" y="2992" width="3" height="3"/><rect x="1238" y="2989" width="3" height="3"/></g>
<g clip-path="url(#cb6)" stroke="#000" fill="none">
<line x1="1219.5" y1="2667.3" x2="1386.5" y2="2834.3" stroke-width="2.4"/>
<line x1="1219.5" y1="2694" x2="1386.5" y2="2861" stroke-width="2.4"/>
<line x1="1219.5" y1="2720.7" x2="1386.5" y2="2887.7" stroke-width="2" stroke-dasharray="3.5 2"/>
<line x1="1219.5" y1="2747.4" x2="1386.5" y2="2914.4" stroke-width="2.4"/>
<line x1="1219.5" y1="2774.1" x2="1386.5" y2="2941.1" stroke-width="2" stroke-dasharray="3.5 2"/>
<line x1="1219.5" y1="2800.8" x2="1386.5" y2="2967.8" stroke-width="2.4"/>
<line x1="1219.5" y1="2827.5" x2="1386.5" y2="2994.5" stroke-width="2.4"/>
<line x1="1219.5" y1="2854.2" x2="1386.5" y2="3021.2" stroke-width="2.6" stroke-dasharray="2.6 3.6"/>
<line x1="1219.5" y1="2880.9" x2="1386.5" y2="3047.9" stroke-width="2.4"/>
<line x1="1219.5" y1="2907.6" x2="1386.5" y2="3074.6" stroke-width="2.4"/>
<line x1="1219.5" y1="2934.3" x2="1386.5" y2="3101.3" stroke-width="2" stroke-dasharray="3.5 2"/>
<line x1="1219.5" y1="2961" x2="1386.5" y2="3128" stroke-width="2.4"/>
<line x1="1219.5" y1="2987.7" x2="1386.5" y2="3154.7" stroke-width="2" stroke-dasharray="3.5 2"/>
<line x1="1219.5" y1="3014.4" x2="1386.5" y2="3181.4" stroke-width="2.4"/>
<line x1="1219.5" y1="3041.1" x2="1386.5" y2="3208.1" stroke-width="2.4"/>
<line x1="1219.5" y1="3067.8" x2="1386.5" y2="3234.8" stroke-width="2.6" stroke-dasharray="2.6 3.6"/>
</g>
<rect x="822.5" y="2368.5" width="87" height="692" fill="none"/>
<rect x="909.5" y="2420.5" width="87" height="640" fill="none"/>
<rect x="996.5" y="2334.5" width="88" height="726" fill="none"/>
<rect x="1084.5" y="2720.5" width="87" height="340" fill="none"/>
<rect x="1171.5" y="2671.5" width="88" height="389" fill="none"/>
<rect x="1259.5" y="2835.5" width="87" height="225" fill="none"/>
<line x1="865.5" y1="2217.5" x2="865.5" y2="2368.5"/>
<line x1="855.5" y1="2217.5" x2="875.5" y2="2217.5"/>
<line x1="953" y1="2184.5" x2="953" y2="2420.5"/>
<line x1="943" y1="2184.5" x2="963" y2="2184.5"/>
<line x1="1040.5" y1="2181.5" x2="1040.5" y2="2334.5"/>
<line x1="1030.5" y1="2181.5" x2="1050.5" y2="2181.5"/>
<line x1="1128.5" y1="2568.5" x2="1128.5" y2="2720.5"/>
<line x1="1118.5" y1="2568.5" x2="1138.5" y2="2568.5"/>
<line x1="1215.5" y1="2518.5" x2="1215.5" y2="2671.5"/>
<line x1="1205.5" y1="2518.5" x2="1225.5" y2="2518.5"/>
<line x1="1302.5" y1="2682.5" x2="1302.5" y2="2835.5"/>
<line x1="1292.5" y1="2682.5" x2="1312.5" y2="2682.5"/>
</g>
<g stroke="url(#darkp)" fill="none">
<rect x="1470.8" y="2187.7" width="31" height="29.6" stroke-width="4.8"/>
<line stroke="#000" x1="1471.8" y1="2199.7" x2="1482.8" y2="2188.7" stroke-width="2.6"/>
<line stroke="#000" x1="1481.8" y1="2214.7" x2="1485.8" y2="2210.7" stroke-width="2.6"/>
<line stroke="#000" x1="1492.8" y1="2203.7" x2="1498.8" y2="2198.7" stroke-width="2.6"/>
<rect x="1470.8" y="2314.5" width="31" height="29.6" stroke-width="4.8"/>
<line stroke="#000" x1="1471.8" y1="2336.5" x2="1494.8" y2="2315.5" stroke-width="2.8"/>
<line stroke="#000" x1="1471.8" y1="2320.5" x2="1496.8" y2="2342.5" stroke-width="2.4"/>
<rect x="1470.8" y="2441.7" width="31" height="29.6" stroke-width="4.8"/>
<line stroke="#000" x1="1471.8" y1="2451.7" x2="1489.8" y2="2469.7" stroke-width="2.8"/>
<rect x="1470.8" y="2568.7" width="31" height="29.6" stroke-width="4.8" fill="url(#darkp)"/>
<rect x="1470.8" y="2694.7" width="31" height="29.6" stroke-width="4.8"/>
<rect x="1478.8" y="2702.7" width="2.5" height="2.5" fill="#000" stroke="none"/>
<rect x="1482.8" y="2710.7" width="2.5" height="2.5" fill="#000" stroke="none"/>
<rect x="1476.8" y="2716.7" width="2.5" height="2.5" fill="#000" stroke="none"/>
<rect x="1470.8" y="2822.7" width="31" height="29.6" stroke-width="4.8"/>
<line stroke="#000" x1="1473.8" y1="2830.7" x2="1490.8" y2="2849.7" stroke-width="2" stroke-dasharray="2 2"/>
<line stroke="#000" x1="1488.8" y1="2823.7" x2="1498.8" y2="2832.7" stroke-width="2.4"/>
</g>
<text font-family='"Liberation Sans",sans-serif' font-size="79.00" fill="#000" x="1923.00" y="225.00" textLength="262.40" lengthAdjust="spacing">184126</text>
<text font-family='"Liberation Sans",sans-serif' font-size="66.00" fill="url(#darkp)" stroke="url(#darkp)" stroke-width="1.00" x="1187.00" y="369.00" textLength="162.70" lengthAdjust="spacing">1 / 26</text>
<text font-family='"Liberation Mono",monospace' font-size="53.00" fill="url(#darkp)" stroke="url(#darkp)" stroke-width="2.20" x="1302.50" y="593.90" textLength="306.50" lengthAdjust="spacingAndGlyphs">FBGC +/— ECM</text>
<text font-family='"Liberation Sans",sans-serif' font-size="49.50" fill="#000" x="1340.50" y="655.00" textLength="205.00" lengthAdjust="spacing">Неделя 2</text>
<text font-family='"Liberation Mono",monospace' font-size="53.50" fill="url(#darkp)" stroke="url(#darkp)" stroke-width="2.20" x="1509.50" y="1044.30" textLength="249.50" lengthAdjust="spacingAndGlyphs">FBGC — ECM</text>
<text font-family='"Liberation Mono",monospace' font-size="53.50" fill="url(#darkp)" stroke="url(#darkp)" stroke-width="2.20" x="1509.50" y="1133.30" textLength="249.50" lengthAdjust="spacingAndGlyphs">FBGC + ECM</text>
<text font-family='"Liberation Sans",sans-serif' font-size="49.40" fill="#000" transform="translate(655.00,1327.00) rotate(-90)" textLength="600.00" lengthAdjust="spacing">Количество клеток/волокно</text>
<text font-family='"Liberation Sans",sans-serif' font-size="82.00" fill="#000" x="1162.50 1224.69 1269.15 1300.20 1323.44 1366.30" y="1788.70">Фиг.1А</text>
<text font-family='"Liberation Mono",monospace' font-size="53.00" fill="url(#darkp)" stroke="url(#darkp)" stroke-width="2.20" x="1199.00" y="2077.20" textLength="305.00" lengthAdjust="spacingAndGlyphs">FBGC +/— ECM</text>
<text font-family='"Liberation Sans",sans-serif' font-size="49.50" fill="#000" x="1226.00" y="2135.80" textLength="206.00" lengthAdjust="spacing">Неделя 2</text>
<text font-family='"Liberation Sans",sans-serif' font-size="82.00" fill="#000" x="1083.80 1146.47 1191.31 1221.94 1245.76 1288.10" y="3218.90">Фиг.1В</text>
<text font-family='"Liberation Sans",sans-serif' font-size="49.40" fill="#000" transform="translate(629.10,2951.00) rotate(-90)" textLength="599.50" lengthAdjust="spacing">Количество клеток/волокно</text>
<text font-family='"Liberation Mono",monospace' font-size="52.50" fill="url(#darkp)" stroke="url(#darkp)" stroke-width="2.20" x="1517.00" y="2219.30" textLength="334.00" lengthAdjust="spacingAndGlyphs">FBGC Ave — ECM</text>
<text font-family='"Liberation Mono",monospace' font-size="52.50" fill="url(#darkp)" stroke="url(#darkp)" stroke-width="2.20" x="1517.00" y="2346.10" textLength="424.40" lengthAdjust="spacingAndGlyphs">FBGC Ave ETO — ECM</text>
<text font-family='"Liberation Mono",monospace' font-size="52.50" fill="url(#darkp)" stroke="url(#darkp)" stroke-width="2.20" x="1517.00" y="2473.30" textLength="515.20" lengthAdjust="spacingAndGlyphs">FBGC Ave E—Beam — ECM</text>
<text font-family='"Liberation Mono",monospace' font-size="52.50" fill="url(#darkp)" stroke="url(#darkp)" stroke-width="2.20" x="1517.00" y="2600.30" textLength="334.00" lengthAdjust="spacingAndGlyphs">FBGC Ave + ECM</text>
<text font-family='"Liberation Mono",monospace' font-size="52.50" fill="url(#darkp)" stroke="url(#darkp)" stroke-width="2.20" x="1517.00" y="2726.30" textLength="424.40" lengthAdjust="spacingAndGlyphs">FBGC Ave ETO + ECM</text>
<text font-family='"Liberation Mono",monospace' font-size="52.50" fill="url(#darkp)" stroke="url(#darkp)" stroke-width="2.20" x="1517.00" y="2854.30" textLength="515.20" lengthAdjust="spacingAndGlyphs">FBGC Ave E—Beam + ECM</text>
<text font-family='"Liberation Sans",sans-serif' font-size="50.00" fill="url(#darkp)" stroke="url(#darkp)" stroke-width="1.60" x="725.00" y="1654.80" textLength="22.50" lengthAdjust="spacingAndGlyphs">0</text>
<text font-family='"Liberation Sans",sans-serif' font-size="50.00" fill="url(#darkp)" stroke="url(#darkp)" stroke-width="1.60" x="725.00" y="1466.80" textLength="23.50" lengthAdjust="spacingAndGlyphs">2</text>
<text font-family='"Liberation Sans",sans-serif' font-size="50.00" fill="url(#darkp)" stroke="url(#darkp)" stroke-width="1.60" x="726.00" y="1276.80" textLength="21.50" lengthAdjust="spacingAndGlyphs">4</text>
<text font-family='"Liberation Sans",sans-serif' font-size="50.00" fill="url(#darkp)" stroke="url(#darkp)" stroke-width="1.60" x="725.00" y="1086.80" textLength="23.50" lengthAdjust="spacingAndGlyphs">6</text>
<text font-family='"Liberation Sans",sans-serif' font-size="50.00" fill="url(#darkp)" stroke="url(#darkp)" stroke-width="1.60" x="725.00" y="899.80" textLength="23.50" lengthAdjust="spacingAndGlyphs">8</text>
<text font-family='"Liberation Sans",sans-serif' font-size="50.00" fill="url(#darkp)" stroke="url(#darkp)" stroke-width="1.60" x="703.50" y="708.80" textLength="44.00" lengthAdjust="spacingAndGlyphs">10</text>
<text font-family='"Liberation Sans",sans-serif' font-size="50.00" fill="url(#darkp)" stroke="url(#darkp)" stroke-width="1.60" x="703.50" y="521.80" textLength="45.00" lengthAdjust="spacingAndGlyphs">12</text>
<text font-family='"Liberation Sans",sans-serif' font-size="50.00" fill="url(#darkp)" stroke="url(#darkp)" stroke-width="1.60" x="701.50" y="3078.10" textLength="22.00" lengthAdjust="spacingAndGlyphs">0</text>
<text font-family='"Liberation Sans",sans-serif' font-size="50.00" fill="url(#darkp)" stroke="url(#darkp)" stroke-width="1.60" x="701.50" y="2928.10" textLength="23.00" lengthAdjust="spacingAndGlyphs">2</text>
<text font-family='"Liberation Sans",sans-serif' font-size="50.00" fill="url(#darkp)" stroke="url(#darkp)" stroke-width="1.60" x="702.50" y="2776.10" textLength="21.00" lengthAdjust="spacingAndGlyphs">4</text>
<text font-family='"Liberation Sans",sans-serif' font-size="50.00" fill="url(#darkp)" stroke="url(#darkp)" stroke-width="1.60" x="701.50" y="2627.10" textLength="22.00" lengthAdjust="spacingAndGlyphs">6</text>
<text font-family='"Liberation Sans",sans-serif' font-size="50.00" fill="url(#darkp)" stroke="url(#darkp)" stroke-width="1.60" x="701.50" y="2475.10" textLength="22.00" lengthAdjust="spacingAndGlyphs">8</text>
<text font-family='"Liberation Sans",sans-serif' font-size="50.00" fill="url(#darkp)" stroke="url(#darkp)" stroke-width="1.60" x="678.00" y="2324.10" textLength="45.00" lengthAdjust="spacingAndGlyphs">10</text>
<text font-family='"Liberation Sans",sans-serif' font-size="50.00" fill="url(#darkp)" stroke="url(#darkp)" stroke-width="1.60" x="678.00" y="2173.10" textLength="46.00" lengthAdjust="spacingAndGlyphs">12</text>
<text font-family='"Liberation Sans",sans-serif' font-size="50.00" fill="url(#darkp)" stroke="url(#darkp)" stroke-width="1.60" x="678.00" y="2024.10" textLength="45.00" lengthAdjust="spacingAndGlyphs">14</text>
<g fill="#fff"><rect x="1927.5" y="218.5" width="15.5" height="7.0"/><rect x="1950.0" y="218.5" width="15.5" height="7.0"/><rect x="2058.5" y="218.5" width="15.5" height="7.0"/><rect x="2081.0" y="218.5" width="15.5" height="7.0"/><rect x="1190.5" y="362.5" width="12.5" height="8.0"/><rect x="1210.0" y="362.5" width="12.5" height="8.0"/><rect x="1328.5" y="1782.5" width="15.5" height="7.0"/><rect x="1351.0" y="1782.5" width="15.5" height="7.0"/><rect x="1250.5" y="3212.5" width="15.5" height="7.0"/><rect x="1274.0" y="3212.5" width="15.5" height="7.0"/><rect x="704.5" y="703.5" width="8.5" height="7.0"/><rect x="718.0" y="703.5" width="8.5" height="7.0"/><rect x="704.5" y="516.5" width="8.5" height="7.0"/><rect x="718.0" y="516.5" width="8.5" height="7.0"/><rect x="679.5" y="2318.5" width="8.5" height="7.0"/><rect x="693.0" y="2318.5" width="8.5" height="7.0"/><rect x="679.5" y="2167.5" width="8.5" height="7.0"/><rect x="693.0" y="2167.5" width="8.5" height="7.0"/><rect x="679.5" y="2018.5" width="8.5" height="7.0"/><rect x="693.0" y="2018.5" width="8.5" height="7.0"/></g>
</svg>
</body></html>
